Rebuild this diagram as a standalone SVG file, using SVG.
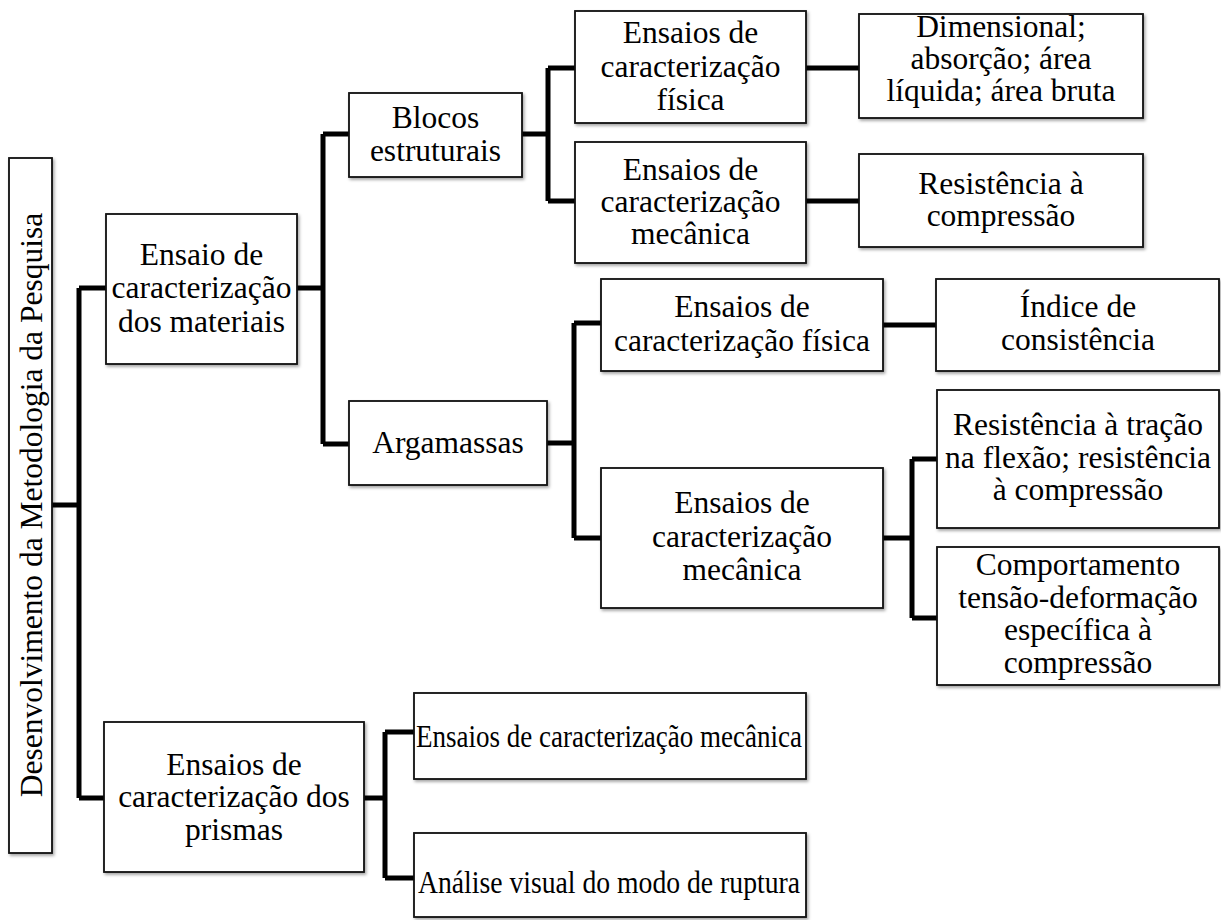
<svg xmlns="http://www.w3.org/2000/svg" width="1221" height="920" viewBox="0 0 1221 920">
<defs>
<filter id="sh" x="-10%" y="-10%" width="130%" height="130%">
<feDropShadow dx="1.5" dy="2" stdDeviation="1.5" flood-color="#000" flood-opacity="0.35"/>
</filter>
</defs>
<style>
.box{fill:#fff;stroke:#111;stroke-width:1.8;filter:url(#sh)}
.t{font-family:"Liberation Serif","Times New Roman",serif;font-size:31.5px;fill:#000;text-anchor:middle}
.c{fill:none;stroke:#000;stroke-width:5;stroke-linejoin:miter;stroke-linecap:butt}
</style>
<rect width="1221" height="920" fill="#fff"/>
<g id="connectors">
<path class="c" d="M52,505H79M79,288V798M79,288H106M79,798H104"/>
<path class="c" d="M297,288H323M323,134V444M323,134H349M323,444H349"/>
<path class="c" d="M522,134H548M548,68V201M548,68H575M548,201H575"/>
<path class="c" d="M806,68H859M806,201H859"/>
<path class="c" d="M547,443H574M574,323V538M574,323H601M574,538H601"/>
<path class="c" d="M883,325H936"/>
<path class="c" d="M883,538H912M912,459V618M912,459H937M912,618H937"/>
<path class="c" d="M364,798H385M385,732V878M385,732H414M385,878H414"/>
</g>
<g id="root">
<rect class="box" x="9" y="158" width="43" height="695"/>
<text class="t" transform="translate(42,505) rotate(-90)" x="0" y="0">Desenvolvimento da Metodologia da Pesquisa</text>
</g>
<g id="materiais">
<rect class="box" x="106" y="214" width="191" height="150"/>
<text class="t" x="201.5" y="265">Ensaio de</text>
<text class="t" x="201.5" y="298">caracterização</text>
<text class="t" x="201.5" y="332">dos materiais</text>
</g>
<g id="blocos">
<rect class="box" x="349" y="93" width="173" height="84"/>
<text class="t" x="435.5" y="128">Blocos</text>
<text class="t" x="435.5" y="161">estruturais</text>
</g>
<g id="blocos-fisica">
<rect class="box" x="575" y="11" width="231" height="112"/>
<text class="t" x="690.5" y="43">Ensaios de</text>
<text class="t" x="690.5" y="77">caracterização</text>
<text class="t" x="690.5" y="110">física</text>
</g>
<g id="blocos-mecanica">
<rect class="box" x="575" y="142" width="231" height="121"/>
<text class="t" x="690.5" y="180">Ensaios de</text>
<text class="t" x="690.5" y="212">caracterização</text>
<text class="t" x="690.5" y="244">mecânica</text>
</g>
<g id="dimensional">
<rect class="box" x="859" y="14" width="284" height="104"/>
<text class="t" x="1001" y="37">Dimensional;</text>
<text class="t" x="1001" y="69">absorção; área</text>
<text class="t" x="1001" y="101">líquida; área bruta</text>
</g>
<g id="blocos-compressao">
<rect class="box" x="859" y="154" width="284" height="93"/>
<text class="t" x="1001" y="194">Resistência à</text>
<text class="t" x="1001" y="226">compressão</text>
</g>
<g id="argamassas">
<rect class="box" x="349" y="401" width="198" height="84"/>
<text class="t" x="448" y="453">Argamassas</text>
</g>
<g id="arg-fisica">
<rect class="box" x="601" y="279" width="282" height="92"/>
<text class="t" x="742" y="317">Ensaios de</text>
<text class="t" x="742" y="351">caracterização física</text>
</g>
<g id="arg-mecanica">
<rect class="box" x="601" y="468" width="282" height="140"/>
<text class="t" x="742" y="513">Ensaios de</text>
<text class="t" x="742" y="547">caracterização</text>
<text class="t" x="742" y="580">mecânica</text>
</g>
<g id="indice">
<rect class="box" x="936" y="279" width="283" height="92"/>
<text class="t" x="1078" y="317">Índice de</text>
<text class="t" x="1078" y="350">consistência</text>
</g>
<g id="tracao">
<rect class="box" x="937" y="390" width="282" height="138"/>
<text class="t" x="1078" y="435">Resistência à tração</text>
<text class="t" x="1078" y="468">na flexão; resistência</text>
<text class="t" x="1078" y="500">à compressão</text>
</g>
<g id="comportamento">
<rect class="box" x="937" y="547" width="282" height="138"/>
<text class="t" x="1078" y="575">Comportamento</text>
<text class="t" x="1078" y="608">tensão-deformação</text>
<text class="t" x="1078" y="640">específica à</text>
<text class="t" x="1078" y="673">compressão</text>
</g>
<g id="prismas">
<rect class="box" x="104" y="722" width="260" height="150"/>
<text class="t" x="234" y="775">Ensaios de</text>
<text class="t" x="234" y="807">caracterização dos</text>
<text class="t" x="234" y="840">prismas</text>
</g>
<g id="prismas-mecanica">
<rect class="box" x="414" y="693" width="392" height="86"/>
<text class="t" x="609" y="747" font-size="33" textLength="386" lengthAdjust="spacingAndGlyphs">Ensaios de caracterização mecânica</text>
</g>
<g id="ruptura">
<rect class="box" x="414" y="833" width="392" height="84"/>
<text class="t" x="609" y="893" font-size="33" textLength="382" lengthAdjust="spacingAndGlyphs">Análise visual do modo de ruptura</text>
</g>
</svg>
